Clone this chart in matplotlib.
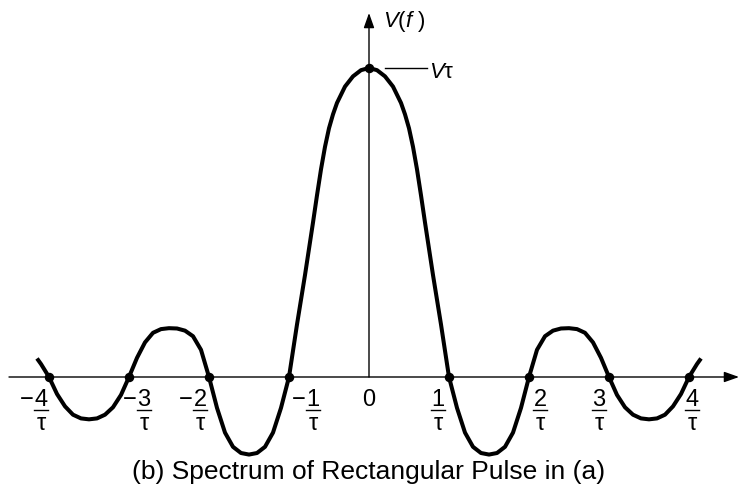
import matplotlib.pyplot as plt


# ============== DATA ==============

# Frequency in units of 1/tau
FREQ = [
	-4.15, -4.1, -4.0, -3.9, -3.8, -3.7, -3.6, -3.5, -3.4, -3.3, -3.2, -3.1,
	-3.0, -2.9, -2.8, -2.7, -2.6, -2.5, -2.4, -2.3, -2.2, -2.1,
	-2.0, -1.9, -1.8, -1.7, -1.6, -1.5, -1.4, -1.3, -1.2, -1.1,
	-1.0, -0.9, -0.8, -0.75, -0.7, -0.65, -0.6, -0.55, -0.5, -0.45, -0.4, -0.3, -0.2, -0.1,
	0.0, 0.1, 0.2, 0.3, 0.4, 0.45, 0.5, 0.55, 0.6, 0.65, 0.7, 0.75, 0.8, 0.9,
	1.0, 1.1, 1.2, 1.3, 1.4, 1.5, 1.6, 1.7, 1.8, 1.9,
	2.0, 2.1, 2.2, 2.3, 2.4, 2.5, 2.6, 2.7, 2.8, 2.9,
	3.0, 3.1, 3.2, 3.3, 3.4, 3.5, 3.6, 3.7, 3.8, 3.9,
	4.0, 4.1, 4.15,
]

# Spectrum V(f), relative to its peak value V*tau
SPECTRUM = [
	0.060, 0.042, 0.000, -0.055, -0.095, -0.122, -0.134, -0.137, -0.134, -0.122, -0.098, -0.058,
	0.000, 0.062, 0.112, 0.143, 0.155, 0.158, 0.157, 0.150, 0.132, 0.088,
	0.000, -0.100, -0.180, -0.226, -0.246, -0.251, -0.246, -0.226, -0.180, -0.100,
	0.000, 0.170, 0.330, 0.415, 0.500, 0.588, 0.672, 0.745, 0.805, 0.850, 0.887, 0.940, 0.973, 0.993,
	1.000, 0.993, 0.973, 0.940, 0.887, 0.850, 0.805, 0.745, 0.672, 0.588, 0.500, 0.415, 0.330, 0.170,
	0.000, -0.100, -0.180, -0.226, -0.246, -0.251, -0.246, -0.226, -0.180, -0.100,
	0.000, 0.088, 0.132, 0.150, 0.157, 0.158, 0.155, 0.143, 0.112, 0.062,
	0.000, -0.058, -0.098, -0.122, -0.134, -0.137, -0.134, -0.122, -0.095, -0.055,
	0.000, 0.042, 0.060,
]

ZERO_CROSSINGS = [-4, -3, -2, -1, 1, 2, 3, 4]
PEAK_FREQ = 0.0
PEAK_VALUE = 1.0

TICK_FREQS = [-4, -3, -2, -1, 0, 1, 2, 3, 4]
TICK_NUMERATORS = ['4', '3', '2', '1', '0', '1', '2', '3', '4']
TICK_SIGNS = ['\u2212', '\u2212', '\u2212', '\u2212', '', '', '', '', '']
TICK_DENOMINATOR = '\u03c4'

AXIS_LABEL = '$\\mathit{V}$($\\mathit{f}$ )'
PEAK_LABEL = '$\\mathit{V}$\u03c4'
CAPTION = '(b) Spectrum of Rectangular Pulse in (a)'


# ============== LAYOUT ==============

FIG_W, FIG_H = 740, 501
DPI = 100
ORIGIN_PX = (369, 377)          # pixel position of f = 0, V = 0
PX_PER_F = 80                   # pixels per 1/tau
PX_PER_V = 309                  # pixels per V*tau

CURVE_LW = 2.9
AXIS_LW = 1.0
DOT_SIZE = 5.8
TICK_FONT = 17
LABEL_FONT = 16
CAPTION_FONT = 19

# label centre shift from its crossing, so the curve stays clear
TICK_SHIFT_PX = [-8, 15, -9, 24, 0, -11, 11, -10, 3]
NUM_BASELINE_PX = 406
BAR_PX = 410
DEN_BASELINE_PX = 430
BAR_HALF_PX = 7


def px(x, y):
	"""Pixel position (top-left origin) to data coordinates"""
	return (x - ORIGIN_PX[0]) / PX_PER_F, (ORIGIN_PX[1] - y) / PX_PER_V


def draw_arrow(ax, start, tip):
	ax.annotate('', xy=tip, xytext=start,
				arrowprops=dict(arrowstyle='-|>,head_length=0.45,head_width=0.16',
								lw=AXIS_LW, color='black', shrinkA=0, shrinkB=0,
								mutation_scale=20))


def main():
	plt.rcParams['font.family'] = ['Liberation Sans', 'DejaVu Sans']
	plt.rcParams['mathtext.fontset'] = 'custom'
	plt.rcParams['mathtext.it'] = 'Liberation Sans:italic'
	plt.rcParams['mathtext.rm'] = 'Liberation Sans'

	fig = plt.figure(figsize=(FIG_W / DPI, FIG_H / DPI), dpi=DPI)
	ax = fig.add_axes([0, 0, 1, 1])
	x0, y0 = px(0, FIG_H)
	x1, y1 = px(FIG_W, 0)
	ax.set_xlim(x0, x1)
	ax.set_ylim(y0, y1)
	ax.axis('off')

	# axes with arrow heads
	draw_arrow(ax, px(9, ORIGIN_PX[1]), px(739, ORIGIN_PX[1]))
	draw_arrow(ax, (0, 0), px(ORIGIN_PX[0], 13))

	# spectrum curve and marked points
	ax.plot(FREQ, SPECTRUM, color='black', lw=CURVE_LW,
			solid_capstyle='butt', solid_joinstyle='round', zorder=2)
	ax.plot(ZERO_CROSSINGS, [0] * len(ZERO_CROSSINGS), 'o', color='black',
			ms=DOT_SIZE, zorder=3)
	ax.plot([PEAK_FREQ], [PEAK_VALUE], 'o', color='black', ms=DOT_SIZE, zorder=3)

	# peak value marker
	peak_y = ORIGIN_PX[1] - PEAK_VALUE * PX_PER_V
	lx0, ly = px(385, peak_y)
	lx1, _ = px(427, peak_y)
	ax.plot([lx0, lx1], [ly, ly], color='black', lw=AXIS_LW)
	ax.text(*px(429, peak_y + 10), PEAK_LABEL, fontsize=LABEL_FONT,
			ha='left', va='baseline')

	ax.text(*px(383, 27), AXIS_LABEL, fontsize=LABEL_FONT, ha='left', va='baseline')

	# fractional tick labels  k / tau
	for f, num, sign, shift in zip(TICK_FREQS, TICK_NUMERATORS, TICK_SIGNS, TICK_SHIFT_PX):
		cx = ORIGIN_PX[0] + f * PX_PER_F + shift
		ax.text(*px(cx, NUM_BASELINE_PX), num, fontsize=TICK_FONT,
				ha='center', va='baseline')
		if sign:
			ax.text(*px(cx - BAR_HALF_PX, NUM_BASELINE_PX), sign, fontsize=TICK_FONT,
					ha='right', va='baseline')
		if num == '0':
			continue
		bx0, by = px(cx - BAR_HALF_PX, BAR_PX)
		bx1, _ = px(cx + BAR_HALF_PX, BAR_PX)
		ax.plot([bx0, bx1], [by, by], color='black', lw=AXIS_LW)
		ax.text(*px(cx, DEN_BASELINE_PX), TICK_DENOMINATOR, fontsize=TICK_FONT,
				ha='center', va='baseline')

	ax.text(*px(ORIGIN_PX[0], 479), CAPTION, fontsize=CAPTION_FONT,
			ha='center', va='baseline')

	fig.savefig('out.png', dpi=DPI)


if __name__ == '__main__':
	main()
